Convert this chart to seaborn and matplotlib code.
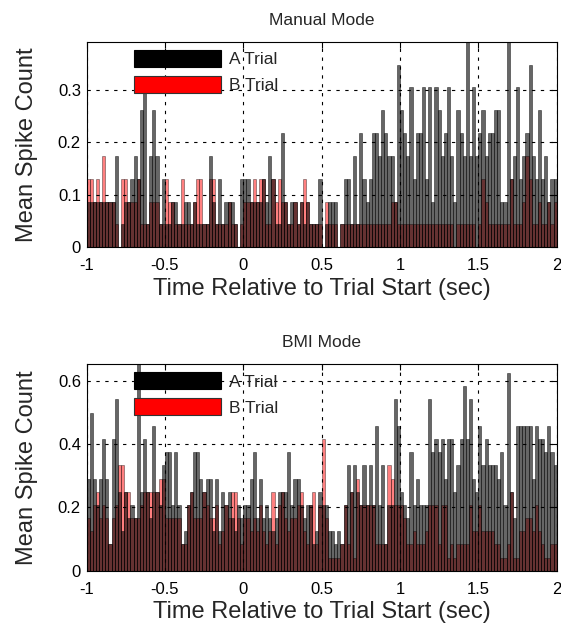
import numpy as np
import pandas as pd
import seaborn as sns
import matplotlib.pyplot as plt
from matplotlib.patches import Patch

# spike counts per 20 ms bin, summed over trials
n_trials_manual = 23
n_trials_bmi = 24

manual_a = [2, 2, 2, 2, 2, 2, 2, 2, 2, 4, 0, 1, 2, 2, 3, 4, 3, 6, 7, 1,
            4, 6, 4, 1, 3, 1, 1, 2, 2, 1, 1, 2, 2, 1, 2, 1, 1, 1, 1, 4,
            2, 1, 3, 1, 2, 2, 2, 1, 0, 3, 3, 3, 2, 2, 2, 2, 3, 2, 4, 3,
            1, 1, 5, 2, 1, 2, 2, 1, 2, 1, 2, 1, 1, 1, 3, 0, 1, 2, 2, 2,
            0, 1, 3, 3, 1, 4, 1, 5, 3, 2, 3, 5, 5, 4, 6, 5, 4, 4, 2, 8,
            6, 5, 4, 7, 3, 5, 5, 7, 3, 7, 2, 7, 6, 4, 5, 7, 4, 2, 6, 5,
            4, 9, 4, 7, 4, 5, 6, 4, 5, 5, 6, 6, 2, 2, 9, 3, 4, 7, 3, 4,
            5, 8, 4, 3, 6, 3, 4, 2, 3, 3]
manual_b = [3, 3, 2, 3, 2, 4, 2, 2, 2, 1, 0, 3, 3, 2, 2, 2, 3, 1, 1, 1,
            2, 2, 2, 1, 1, 3, 2, 2, 1, 1, 3, 1, 1, 1, 2, 3, 3, 1, 1, 3,
            3, 1, 1, 1, 1, 2, 1, 1, 0, 1, 2, 2, 2, 3, 2, 3, 3, 1, 1, 3,
            2, 3, 2, 2, 1, 1, 2, 1, 2, 3, 2, 1, 1, 1, 1, 0, 2, 1, 1, 1,
            0, 1, 1, 1, 1, 1, 1, 1, 1, 1, 1, 1, 1, 1, 1, 1, 1, 2, 2, 1,
            1, 1, 1, 1, 1, 1, 1, 1, 1, 1, 1, 1, 1, 1, 1, 1, 1, 0, 1, 1,
            1, 1, 1, 1, 0, 1, 3, 2, 1, 1, 1, 1, 1, 1, 1, 3, 1, 1, 1, 2,
            4, 3, 1, 1, 2, 1, 1, 2, 1, 2]
bmi_a = [7, 12, 7, 5, 7, 10, 7, 2, 10, 13, 6, 3, 6, 4, 5, 4, 16, 6, 10, 6,
         4, 11, 6, 5, 8, 9, 9, 5, 9, 5, 2, 3, 5, 6, 9, 9, 7, 6, 7, 7,
         3, 7, 3, 6, 5, 6, 4, 3, 5, 4, 5, 5, 7, 9, 4, 7, 4, 5, 4, 3,
         4, 6, 6, 6, 9, 5, 7, 7, 5, 4, 5, 5, 2, 3, 6, 5, 5, 3, 3, 2,
         3, 2, 5, 8, 6, 8, 6, 5, 8, 5, 8, 5, 11, 5, 8, 2, 5, 5, 13, 11,
         6, 5, 4, 9, 5, 7, 5, 5, 5, 13, 9, 10, 9, 10, 7, 10, 10, 6, 8, 10,
         14, 10, 13, 7, 6, 11, 8, 10, 8, 8, 8, 7, 9, 5, 15, 6, 4, 11, 11, 11,
         11, 11, 7, 11, 10, 10, 9, 11, 9, 8]
bmi_b = [4, 3, 5, 6, 4, 5, 4, 2, 4, 5, 8, 8, 6, 6, 4, 4, 4, 5, 6, 6,
         6, 6, 6, 7, 7, 4, 4, 4, 4, 4, 2, 2, 5, 6, 4, 4, 4, 6, 5, 4,
         4, 5, 2, 3, 5, 4, 6, 6, 4, 2, 4, 4, 3, 4, 3, 5, 3, 2, 3, 6,
         2, 5, 6, 4, 3, 4, 4, 5, 6, 3, 2, 5, 6, 2, 5, 10, 4, 1, 1, 1,
         1, 2, 5, 2, 6, 1, 7, 5, 5, 5, 5, 5, 2, 2, 2, 2, 8, 7, 5, 5,
         5, 4, 2, 2, 3, 2, 2, 2, 3, 5, 5, 5, 2, 5, 5, 1, 2, 1, 2, 2,
         2, 2, 5, 3, 3, 5, 3, 3, 3, 3, 2, 2, 1, 1, 2, 6, 1, 1, 3, 3,
         4, 4, 3, 5, 3, 2, 1, 1, 2, 2]

# 20 ms bins from -1 to 2 s
t = np.round(np.arange(-0.99, 2.0, 0.02), 3)

xticks = [-1, -0.5, 0, 0.5, 1, 1.5, 2]
xticklabels = ['-1', '-0.5', '0', '0.5', '1', '1.5', '2']

sns.set_style('white')
plt.rcParams['font.family'] = ['Liberation Sans', 'DejaVu Sans']

fig = plt.figure(figsize=(5.61, 6.37), dpi=100)
ax1 = fig.add_axes([0.1542, 0.6118, 0.8382, 0.3227])
ax2 = fig.add_axes([0.1542, 0.1041, 0.8382, 0.3245])

panels = [
    (ax1, manual_a, manual_b, n_trials_manual, 'Manual Mode', 9 / 23,
     [0, 0.1, 0.2, 0.3], ['0', '0.1', '0.2', '0.3']),
    (ax2, bmi_a, bmi_b, n_trials_bmi, 'BMI Mode', 0.654,
     [0, 0.2, 0.4, 0.6], ['0', '0.2', '0.4', '0.6']),
]

for ax, a, b, n, title, ytop, yticks, yticklabels in panels:
    df = pd.DataFrame({'t': t, 'A': np.array(a) / n, 'B': np.array(b) / n})
    # B trials underneath, A trials on top, both see-through
    sns.barplot(data=df, x='t', y='B', native_scale=True, width=1, ax=ax,
                color='red', saturation=1, errorbar=None,
                alpha=0.5, edgecolor='black', linewidth=0.5)
    sns.barplot(data=df, x='t', y='A', native_scale=True, width=1, ax=ax,
                color='black', saturation=1, errorbar=None,
                alpha=0.6, edgecolor='black', linewidth=0.5)

    ax.set_xlim(-1, 2)
    ax.set_ylim(0, ytop)
    ax.set_xticks(xticks)
    ax.set_xticklabels(xticklabels)
    ax.set_yticks(yticks)
    ax.set_yticklabels(yticklabels)
    ax.grid(True, color='black', linestyle=(0, (3, 5)), linewidth=0.8)
    ax.set_axisbelow(False)
    ax.tick_params(direction='in', top=True, right=True, length=4,
                   labelsize=12, colors='black')
    ax.tick_params(axis='x', pad=8)
    ax.tick_params(axis='y', pad=4)
    for s in ax.spines.values():
        s.set_visible(True)
        s.set_color('black')
        s.set_linewidth(0.8)

    ax.set_title(title, fontsize=12.5, pad=12)
    ax.set_xlabel('Time Relative to Trial Start (sec)', fontsize=17, labelpad=3)
    ax.set_ylabel('Mean Spike Count', fontsize=17, labelpad=14)

    handles = [Patch(facecolor='black', edgecolor='black', linewidth=0.8),
               Patch(facecolor='red', edgecolor='#333333', linewidth=0.8)]
    ax.legend(handles, ['A Trial', 'B Trial'], loc='upper left',
              bbox_to_anchor=(0.101, 0.96), frameon=False, fontsize=12.5,
              handlelength=5.0, handleheight=1.15, handletextpad=0.46,
              labelspacing=0.48, borderpad=0, borderaxespad=0)

fig.savefig('out.png', dpi=100)
